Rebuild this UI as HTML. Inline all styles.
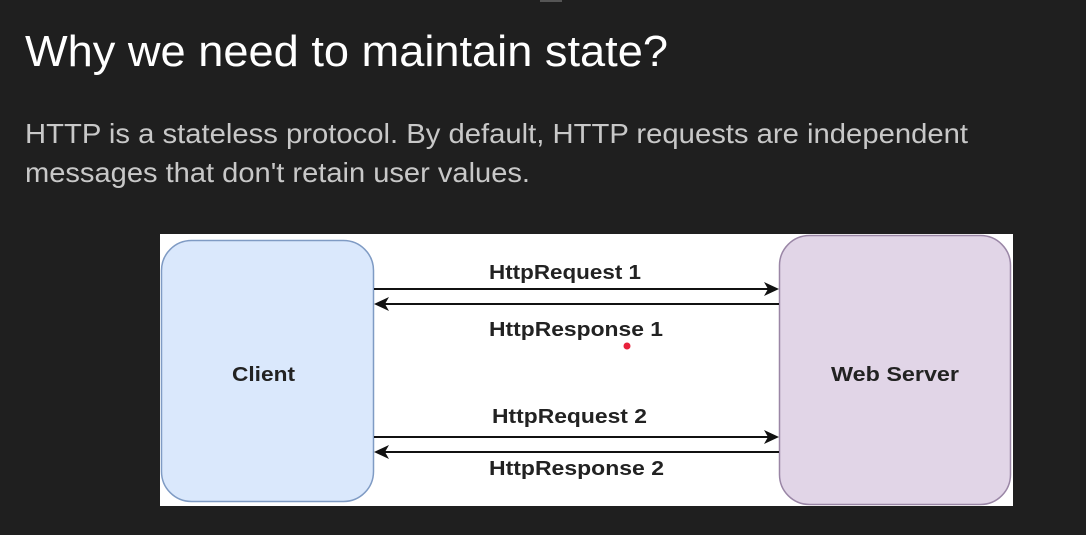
<!DOCTYPE html>
<html><head><meta charset="utf-8"><style>
html,body{margin:0;padding:0;background:#1f1f1f;width:1086px;height:535px;overflow:hidden}
</style></head><body>
<svg width="1086" height="535" viewBox="0 0 1086 535" xmlns="http://www.w3.org/2000/svg" font-family="Liberation Sans, Arial, sans-serif">
<rect width="1086" height="535" fill="#1f1f1f"/>
<rect x="540" y="0" width="22" height="2" fill="#555"/>
<text x="25" y="66" font-size="44" fill="#ffffff" textLength="643" lengthAdjust="spacingAndGlyphs">Why we need to maintain state?</text>
<text x="25" y="143" font-size="28" fill="#c8c8c8" textLength="943" lengthAdjust="spacingAndGlyphs">HTTP is a stateless protocol. By default, HTTP requests are independent</text>
<text x="25" y="182" font-size="28" fill="#c8c8c8" textLength="505" lengthAdjust="spacingAndGlyphs">messages that don't retain user values.</text>
<rect x="160" y="234" width="853" height="272" fill="#ffffff"/>
<rect x="161.5" y="240.5" width="212" height="261" rx="30" fill="#dae8fc" stroke="#7f9bc4" stroke-width="1.5"/>
<rect x="779.5" y="235.5" width="231" height="269" rx="30" fill="#e1d5e7" stroke="#9a86a6" stroke-width="1.5"/>
<g stroke="#111" stroke-width="2">
<line x1="374" y1="289" x2="770" y2="289"/>
<line x1="385" y1="304" x2="779" y2="304"/>
<line x1="374" y1="437" x2="770" y2="437"/>
<line x1="385" y1="452" x2="779" y2="452"/>
</g>
<g fill="#111">
<polygon points="779,289 764,282 768,289 764,296"/>
<polygon points="374,304 389,297 385,304 389,311"/>
<polygon points="779,437 764,430 768,437 764,444"/>
<polygon points="374,452 389,445 385,452 389,459"/>
</g>
<g font-size="20" fill="#222" font-weight="bold">
<text x="489" y="279" textLength="152" lengthAdjust="spacingAndGlyphs">HttpRequest 1</text>
<text x="489" y="336" textLength="174" lengthAdjust="spacingAndGlyphs">HttpResponse 1</text>
<text x="492" y="423" textLength="155" lengthAdjust="spacingAndGlyphs">HttpRequest 2</text>
<text x="489" y="475" textLength="175" lengthAdjust="spacingAndGlyphs">HttpResponse 2</text>
<text x="232" y="381" textLength="63" lengthAdjust="spacingAndGlyphs">Client</text>
<text x="831" y="381" textLength="128" lengthAdjust="spacingAndGlyphs">Web Server</text>
</g>
<circle cx="627" cy="346" r="3.5" fill="#e8213b"/>
</svg>
</body></html>
